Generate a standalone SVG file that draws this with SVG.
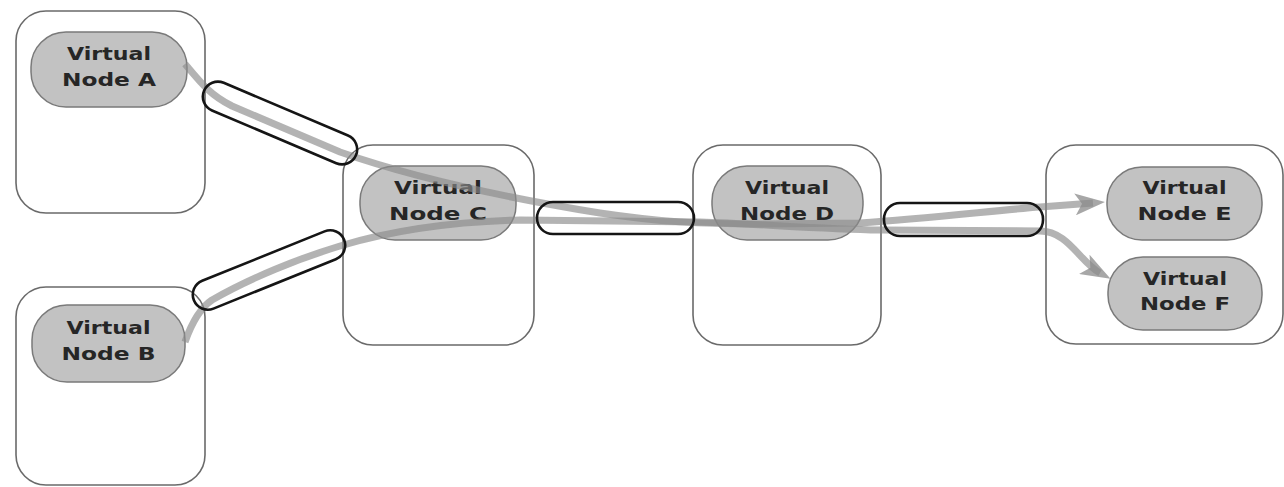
<svg xmlns="http://www.w3.org/2000/svg" width="1284" height="487" viewBox="0 0 1284 487">
<style>
.box{fill:#ffffff;stroke:#6a6a6a;stroke-width:1.6}
.vn{fill:#c2c2c2;stroke:#7a7a7a;stroke-width:1.5}
.lbl{font-family:"DejaVu Sans","Liberation Sans",sans-serif;font-weight:bold;font-size:18.5px;fill:#262626;text-anchor:middle}
.pipe{fill:none;stroke:#151515;stroke-width:2.6}
.flow{fill:none;stroke:#8a8a8a;stroke-opacity:0.65;stroke-width:7}
</style>
<defs>
<marker id="ah" markerUnits="userSpaceOnUse" viewBox="0 0 30 22" markerWidth="30" markerHeight="22" refX="18" refY="11" orient="auto">
<path d="M0 0 L30 11 L0 22 L7 11 Z" fill="#8a8a8a" fill-opacity="0.75"/>
</marker>
</defs>
<rect width="1284" height="487" fill="#ffffff"/>
<g id="hosts">
<rect id="hostA" class="box" x="16" y="11" width="189" height="202" rx="30"/>
<rect id="hostB" class="box" x="16" y="287" width="189" height="198" rx="30"/>
<rect id="hostC" class="box" x="343" y="145" width="191" height="200" rx="30"/>
<rect id="hostD" class="box" x="693" y="145" width="188" height="200" rx="30"/>
<rect id="hostEF" class="box" x="1046" y="145" width="237" height="199" rx="30"/>
</g>
<g id="nodeA"><rect class="vn" x="31" y="32" width="156" height="75" rx="35"/><text class="lbl" x="109" y="60" textLength="84" lengthAdjust="spacingAndGlyphs">Virtual</text><text class="lbl" x="109" y="86" textLength="94" lengthAdjust="spacingAndGlyphs">Node A</text></g>
<g id="nodeB"><rect class="vn" x="32" y="305" width="153" height="77" rx="35"/><text class="lbl" x="108.5" y="334" textLength="84" lengthAdjust="spacingAndGlyphs">Virtual</text><text class="lbl" x="108.5" y="360" textLength="94" lengthAdjust="spacingAndGlyphs">Node B</text></g>
<g id="nodeC"><rect class="vn" x="360" y="166" width="156" height="74" rx="35"/><text class="lbl" x="438" y="194" textLength="88" lengthAdjust="spacingAndGlyphs">Virtual</text><text class="lbl" x="438" y="220" textLength="98" lengthAdjust="spacingAndGlyphs">Node C</text></g>
<g id="nodeD"><rect class="vn" x="712" y="166" width="151" height="74" rx="35"/><text class="lbl" x="787" y="194" textLength="84" lengthAdjust="spacingAndGlyphs">Virtual</text><text class="lbl" x="787" y="220" textLength="94" lengthAdjust="spacingAndGlyphs">Node D</text></g>
<g id="nodeE"><rect class="vn" x="1107" y="167" width="155" height="73" rx="35"/><text class="lbl" x="1184.5" y="194" textLength="84" lengthAdjust="spacingAndGlyphs">Virtual</text><text class="lbl" x="1184.5" y="220" textLength="94" lengthAdjust="spacingAndGlyphs">Node E</text></g>
<g id="nodeF"><rect class="vn" x="1108" y="257" width="154" height="73" rx="35"/><text class="lbl" x="1185" y="285" textLength="84" lengthAdjust="spacingAndGlyphs">Virtual</text><text class="lbl" x="1185" y="310" textLength="90" lengthAdjust="spacingAndGlyphs">Node F</text></g>
<g id="connectors">
<path class="flow" d="M185 64 C200 82 210 95 232 106 L340 152 C420 180 520 200 600 213 C660 222 700 224 760 224 L860 223 C930 218 1000 210 1040 207 L1093 203" marker-end="url(#ah)"/>
<path class="flow" d="M185 342 C192 322 200 308 212 300 C250 278 300 258 340 246 C380 234 440 222 520 220 L700 222 C760 224 820 229 880 230 L1040 231 C1068 231 1080 262 1100 273" marker-end="url(#ah)"/>
<rect class="pipe" x="-82.5" y="-15" width="165" height="30" rx="15" transform="translate(280 123) rotate(23)"/>
<rect class="pipe" x="-81" y="-15" width="162" height="30" rx="15" transform="translate(269 270) rotate(-22)"/>
<rect class="pipe" x="537" y="202" width="157" height="32" rx="16"/>
<rect class="pipe" x="884" y="203" width="159" height="33" rx="16"/>
</g>
</svg>
